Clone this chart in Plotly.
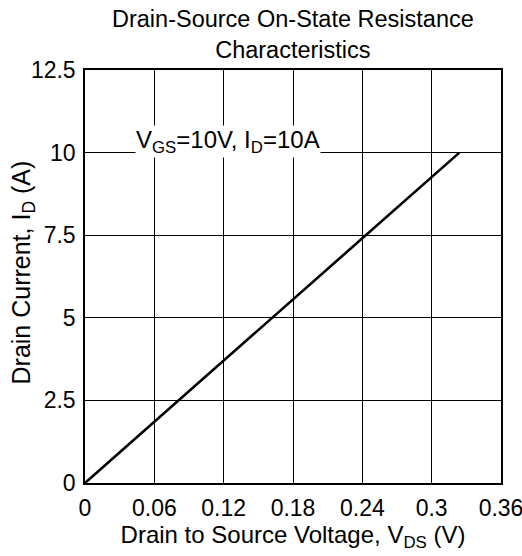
import plotly.graph_objects as go

# Data
vds = [0.0, 0.324]
id_current = [0.0, 10.0]
x_tickvals = [0, 0.06, 0.12, 0.18, 0.24, 0.30, 0.36]
x_ticktext = ["0", "0.06", "0.12", "0.18", "0.24", "0.3", "0.36"]
y_tickvals = [0, 2.5, 5, 7.5, 10, 12.5]
y_ticktext = ["0", "2.5", "5", "7.5", "10", "12.5"]
title_lines = ["Drain-Source On-State Resistance", "Characteristics"]

FONT = "Liberation Sans, Arial, sans-serif"

fig = go.Figure()
fig.add_trace(go.Scatter(x=vds, y=id_current, mode="lines",
                         line=dict(color="black", width=2.6),
                         showlegend=False, hoverinfo="skip"))

fig.update_layout(
    width=522, height=556,
    margin=dict(l=85, r=21, t=70, b=73),
    paper_bgcolor="white", plot_bgcolor="white",
    font=dict(family=FONT, size=23, color="black"),
)
fig.update_xaxes(range=[0, 0.36], tickvals=x_tickvals, ticktext=x_ticktext,
                 showgrid=True, gridcolor="black", gridwidth=1,
                 showline=True, linecolor="black", linewidth=1.5, mirror=True,
                 ticks="", zeroline=False, ticklabeloverflow="allow",
                 ticklabelstandoff=4, automargin=False,
                 tickfont=dict(family=FONT, size=23),
                 title=dict(text="Drain to Source Voltage, V<sub>DS</sub> (V)",
                            font=dict(family=FONT, size=24), standoff=4))
fig.update_yaxes(range=[0, 12.5], tickvals=y_tickvals, ticktext=y_ticktext,
                 showgrid=True, gridcolor="black", gridwidth=1,
                 showline=True, linecolor="black", linewidth=1.5, mirror=True,
                 ticks="", zeroline=False, ticklabelstandoff=3, automargin=False,
                 tickfont=dict(family=FONT, size=23))

# Y axis title (rotated) placed to match the reference
fig.add_annotation(x=0, y=0.5, xref="paper", yref="paper",
                   text="Drain Current, I<sub>D</sub> (A)", textangle=-90,
                   showarrow=False, xanchor="center", yanchor="middle",
                   xshift=-63, yshift=4,
                   font=dict(family=FONT, size=25, color="black"))

# Title as two centered lines above the plot
fig.add_annotation(x=0.5, y=1, xref="paper", yref="paper",
                   text="<br>".join(title_lines),
                   showarrow=False, xanchor="center", yanchor="bottom",
                   yshift=5, font=dict(family=FONT, size=23.5, color="black"))

fig.add_annotation(x=0.124, y=10.0, xref="x", yref="y",
                   text="V<sub>GS</sub>=10V, I<sub>D</sub>=10A",
                   showarrow=False, xanchor="center", yanchor="bottom",
                   yshift=-5, bgcolor="white", borderpad=0,
                   font=dict(family=FONT, size=24, color="black"))

fig.write_html("out.html", config={"displayModeBar": False},
               post_script="document.body.style.margin='0';")
